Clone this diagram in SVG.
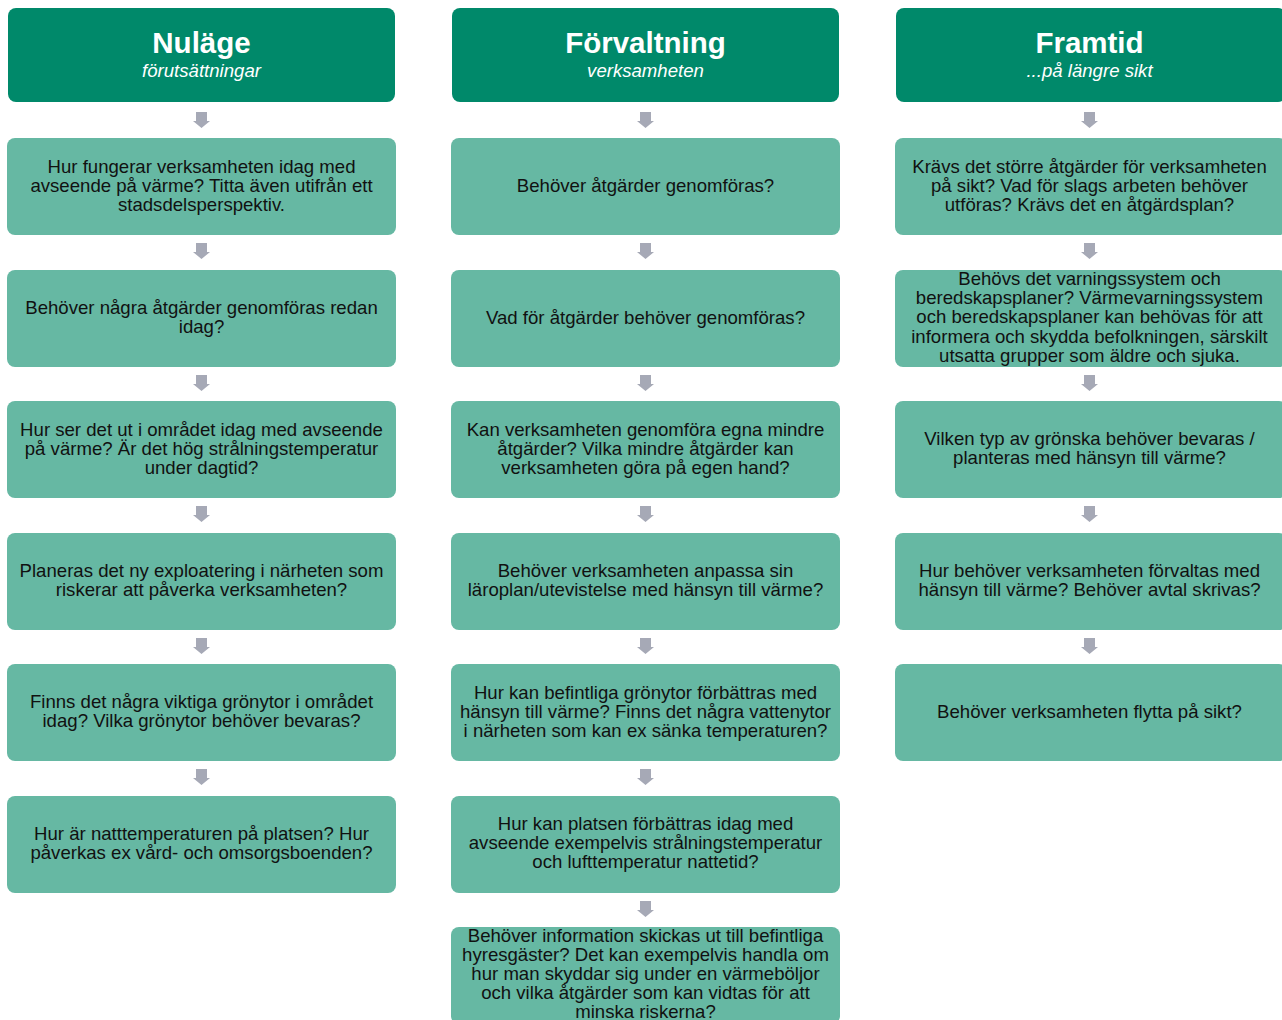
<svg xmlns="http://www.w3.org/2000/svg" width="1282" height="1020" viewBox="0 0 1282 1020">
<style>
.hdr{fill:#00896a}
.box{fill:#66b8a3}
.t{font-family:"Liberation Sans",Arial,sans-serif;font-size:18.6px;fill:#111;text-anchor:middle}
.h1{font-family:"Liberation Sans",Arial,sans-serif;font-size:29.5px;font-weight:bold;fill:#fff;text-anchor:middle}
.h2{font-family:"Liberation Sans",Arial,sans-serif;font-size:18.6px;font-style:italic;fill:#fff;text-anchor:middle}
.arr{fill:#a6a9b6}
</style>
<defs>
<path id="a" class="arr" d="M-5.5,0 H5.5 V9 H8.5 L0,16 L-8.5,9 H-5.5 Z"/>
</defs>
<rect width="1282" height="1020" fill="#fff"/>
<g id="connectors">
<use href="#a" x="201.5" y="112"/><use href="#a" x="201.5" y="243"/><use href="#a" x="201.5" y="375"/><use href="#a" x="201.5" y="506"/><use href="#a" x="201.5" y="638"/><use href="#a" x="201.5" y="769"/>
<use href="#a" x="645.5" y="112"/><use href="#a" x="645.5" y="243"/><use href="#a" x="645.5" y="375"/><use href="#a" x="645.5" y="506"/><use href="#a" x="645.5" y="638"/><use href="#a" x="645.5" y="769"/><use href="#a" x="645.5" y="901"/>
<use href="#a" x="1089.5" y="112"/><use href="#a" x="1089.5" y="243"/><use href="#a" x="1089.5" y="375"/><use href="#a" x="1089.5" y="506"/><use href="#a" x="1089.5" y="638"/>
</g>
<g id="h1"><rect class="hdr" x="8" y="8" width="387" height="94" rx="8"/><text class="h1" x="201.5" y="53">Nuläge</text><text class="h2" x="201.5" y="77">förutsättningar</text></g>
<g id="h2"><rect class="hdr" x="452" y="8" width="387" height="94" rx="8"/><text class="h1" x="645.5" y="53">Förvaltning</text><text class="h2" x="645.5" y="77">verksamheten</text></g>
<g id="h3"><rect class="hdr" x="896" y="8" width="390" height="94" rx="8"/><text class="h1" x="1089.5" y="53">Framtid</text><text class="h2" x="1089.5" y="77">...på längre sikt</text></g>

<g id="n1a"><rect class="box" x="7" y="138" width="389" height="97" rx="8"/><text class="t" x="201.5" y="173">Hur fungerar verksamheten idag med</text><text class="t" x="201.5" y="192">avseende på värme? Titta även utifrån ett</text><text class="t" x="201.5" y="211">stadsdelsperspektiv.</text></g>
<g id="n1b"><rect class="box" x="7" y="270" width="389" height="97" rx="8"/><text class="t" x="201.5" y="314">Behöver några åtgärder genomföras redan</text><text class="t" x="201.5" y="333">idag?</text></g>
<g id="n1c"><rect class="box" x="7" y="401" width="389" height="97" rx="8"/><text class="t" x="201.5" y="436">Hur ser det ut i området idag med avseende</text><text class="t" x="201.5" y="455">på värme? Är det hög strålningstemperatur</text><text class="t" x="201.5" y="474">under dagtid?</text></g>
<g id="n1d"><rect class="box" x="7" y="533" width="389" height="97" rx="8"/><text class="t" x="201.5" y="577">Planeras det ny exploatering i närheten som</text><text class="t" x="201.5" y="596">riskerar att påverka verksamheten?</text></g>
<g id="n1e"><rect class="box" x="7" y="664" width="389" height="97" rx="8"/><text class="t" x="201.5" y="708">Finns det några viktiga grönytor i området</text><text class="t" x="201.5" y="727">idag? Vilka grönytor behöver bevaras?</text></g>
<g id="n1f"><rect class="box" x="7" y="796" width="389" height="97" rx="8"/><text class="t" x="201.5" y="840">Hur är natttemperaturen på platsen? Hur</text><text class="t" x="201.5" y="859">påverkas ex vård- och omsorgsboenden?</text></g>

<g id="n2a"><rect class="box" x="451" y="138" width="389" height="97" rx="8"/><text class="t" x="645.5" y="192">Behöver åtgärder genomföras?</text></g>
<g id="n2b"><rect class="box" x="451" y="270" width="389" height="97" rx="8"/><text class="t" x="645.5" y="324">Vad för åtgärder behöver genomföras?</text></g>
<g id="n2c"><rect class="box" x="451" y="401" width="389" height="97" rx="8"/><text class="t" x="645.5" y="436">Kan verksamheten genomföra egna mindre</text><text class="t" x="645.5" y="455">åtgärder? Vilka mindre åtgärder kan</text><text class="t" x="645.5" y="474">verksamheten göra på egen hand?</text></g>
<g id="n2d"><rect class="box" x="451" y="533" width="389" height="97" rx="8"/><text class="t" x="645.5" y="577">Behöver verksamheten anpassa sin</text><text class="t" x="645.5" y="596">läroplan/utevistelse med hänsyn till värme?</text></g>
<g id="n2e"><rect class="box" x="451" y="664" width="389" height="97" rx="8"/><text class="t" x="645.5" y="699">Hur kan befintliga grönytor förbättras med</text><text class="t" x="645.5" y="718">hänsyn till värme? Finns det några vattenytor</text><text class="t" x="645.5" y="737">i närheten som kan ex sänka temperaturen?</text></g>
<g id="n2f"><rect class="box" x="451" y="796" width="389" height="97" rx="8"/><text class="t" x="645.5" y="830">Hur kan platsen förbättras idag med</text><text class="t" x="645.5" y="849">avseende exempelvis strålningstemperatur</text><text class="t" x="645.5" y="868">och lufttemperatur nattetid?</text></g>
<g id="n2g"><rect class="box" x="451" y="927" width="389" height="97" rx="8"/><text class="t" x="645.5" y="942">Behöver information skickas ut till befintliga</text><text class="t" x="645.5" y="961">hyresgäster? Det kan exempelvis handla om</text><text class="t" x="645.5" y="980">hur man skyddar sig under en värmeböljor</text><text class="t" x="645.5" y="999">och vilka åtgärder som kan vidtas för att</text><text class="t" x="645.5" y="1018">minska riskerna?</text></g>

<g id="n3a"><rect class="box" x="895" y="138" width="392" height="97" rx="8"/><text class="t" x="1089.5" y="173">Krävs det större åtgärder för verksamheten</text><text class="t" x="1089.5" y="192">på sikt? Vad för slags arbeten behöver</text><text class="t" x="1089.5" y="211">utföras? Krävs det en åtgärdsplan?</text></g>
<g id="n3b"><rect class="box" x="895" y="270" width="392" height="97" rx="8"/><text class="t" x="1089.5" y="285">Behövs det varningssystem och</text><text class="t" x="1089.5" y="304">beredskapsplaner? Värmevarningssystem</text><text class="t" x="1089.5" y="323">och beredskapsplaner kan behövas för att</text><text class="t" x="1089.5" y="343">informera och skydda befolkningen, särskilt</text><text class="t" x="1089.5" y="362">utsatta grupper som äldre och sjuka.</text></g>
<g id="n3c"><rect class="box" x="895" y="401" width="392" height="97" rx="8"/><text class="t" x="1089.5" y="445">Vilken typ av grönska behöver bevaras /</text><text class="t" x="1089.5" y="464">planteras med hänsyn till värme?</text></g>
<g id="n3d"><rect class="box" x="895" y="533" width="392" height="97" rx="8"/><text class="t" x="1089.5" y="577">Hur behöver verksamheten förvaltas med</text><text class="t" x="1089.5" y="596">hänsyn till värme? Behöver avtal skrivas?</text></g>
<g id="n3e"><rect class="box" x="895" y="664" width="392" height="97" rx="8"/><text class="t" x="1089.5" y="718">Behöver verksamheten flytta på sikt?</text></g>
</svg>
